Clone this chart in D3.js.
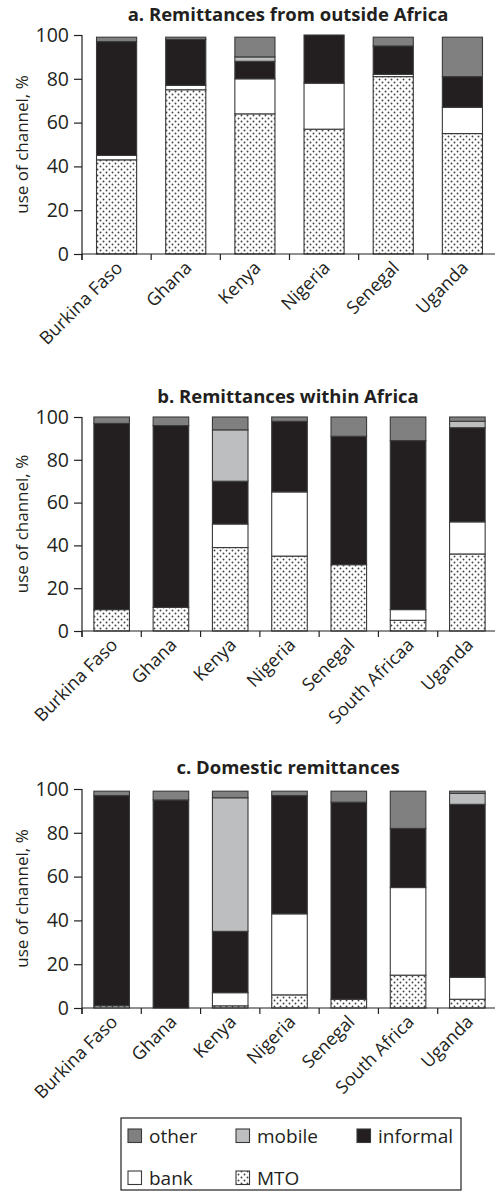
<!DOCTYPE html>
<html>
<head>
<meta charset="utf-8">
<script src="https://cdn.jsdelivr.net/npm/d3@7"></script>
<style>
  html, body { margin: 0; padding: 0; background: #fff; }
  svg { display: block; font-family: "Open Sans", "Noto Sans", sans-serif; }
</style>
</head>
<body>
<svg id="chart" width="495" height="1192"></svg>
<script>
// ---------- data ----------
const keys = ["mto", "bank", "informal", "mobile", "other"];
const legendLabels = ["other", "mobile", "informal", "bank", "MTO"];
const yTicks = [0, 20, 40, 60, 80, 100];

const titleA = "a. Remittances from outside Africa";
const categoriesA = ["Burkina Faso", "Ghana", "Kenya", "Nigeria", "Senegal", "Uganda"];
const mtoA      = [43, 75, 64, 57, 81, 55];
const bankA     = [2, 2, 16, 21, 1, 12];
const informalA = [52, 21, 8, 22, 13, 14];
const mobileA   = [0, 0, 2, 0, 0, 0];
const otherA    = [2, 1, 9, 0, 4, 18];

const titleB = "b. Remittances within Africa";
const categoriesB = ["Burkina Faso", "Ghana", "Kenya", "Nigeria", "Senegal", "South Africa|a", "Uganda"];
const mtoB      = [10, 11, 39, 35, 31, 5, 36];
const bankB     = [0, 0, 11, 30, 0, 5, 15];
const informalB = [87, 85, 20, 33, 60, 79, 44];
const mobileB   = [0, 0, 24, 0, 0, 0, 3];
const otherB    = [3, 4, 6, 2, 9, 11, 2];

const titleC = "c. Domestic remittances";
const categoriesC = ["Burkina Faso", "Ghana", "Kenya", "Nigeria", "Senegal", "South Africa", "Uganda"];
const mtoC      = [1, 0, 1, 6, 4, 15, 4];
const bankC     = [0, 0, 6, 37, 0, 40, 10];
const informalC = [96, 95, 28, 54, 90, 27, 79];
const mobileC   = [0, 0, 61, 0, 0, 0, 5];
const otherC    = [2, 4, 3, 2, 5, 17, 1];

// ---------- styles ----------
const colors = { other: "#808080", mobile: "#bdbec0", informal: "#231f20", bank: "#ffffff", mto: "url(#dots)" };
const stroke = "#3a3a3a";

const svg = d3.select("#chart");
const defs = svg.append("defs");
const pat = defs.append("pattern").attr("id", "dots").attr("patternUnits", "userSpaceOnUse")
  .attr("width", 6).attr("height", 6);
pat.append("rect").attr("width", 6).attr("height", 6).attr("fill", "#fff");
pat.append("circle").attr("cx", 1.5).attr("cy", 1.5).attr("r", 0.95).attr("fill", "#444");
pat.append("circle").attr("cx", 4.5).attr("cy", 4.5).attr("r", 0.95).attr("fill", "#444");

function panel(cfg) {
  const { title, cats, series, y0, y100, titleY, barFrac } = cfg;
  const xLeft = 82, xRight = 497;
  const rows = cats.map((c, i) => {
    const r = { cat: c };
    keys.forEach(k => r[k] = series[k][i]);
    return r;
  });
  const x = d3.scaleBand().domain(cats).range([xLeft, xRight]).padding(0);
  const y = d3.scaleLinear().domain([0, 100]).range([y0, y100]);
  const g = svg.append("g");

  g.append("text").attr("x", 288).attr("y", titleY).attr("text-anchor", "middle")
    .attr("font-size", 18.5).attr("font-weight", "bold").attr("fill", "#231f20").text(title);

  const stacked = d3.stack().keys(keys)(rows);
  const bw = x.bandwidth() * barFrac;
  g.selectAll("g.layer").data(stacked).join("g").attr("class", "layer")
    .attr("fill", d => colors[d.key])
    .selectAll("rect").data(d => d.filter(s => s[1] - s[0] > 0)).join("rect")
    .attr("x", d => x(d.data.cat) + (x.bandwidth() - bw) / 2)
    .attr("width", bw)
    .attr("y", d => y(d[1]))
    .attr("height", d => y(d[0]) - y(d[1]))
    .attr("stroke", stroke).attr("stroke-width", 1.1);

  // y axis
  const ya = d3.axisLeft(y).tickValues(yTicks).tickSize(8).tickPadding(5);
  const yg = g.append("g").attr("transform", `translate(${xLeft},0)`).call(ya);
  yg.select(".domain").remove();
  yg.selectAll(".tick line").attr("stroke", "#231f20").attr("stroke-width", 1.2);
  yg.selectAll(".tick text").attr("font-size", 19.5).attr("fill", "#231f20")
    .attr("font-family", "'Open Sans', sans-serif");
  g.append("line").attr("x1", xLeft).attr("x2", xLeft).attr("y1", y(100)).attr("y2", y0 + 6)
    .attr("stroke", "#231f20").attr("stroke-width", 1.2);

  // x axis line and ticks at band boundaries
  g.append("line").attr("x1", xLeft).attr("x2", xRight).attr("y1", y0).attr("y2", y0)
    .attr("stroke", "#231f20").attr("stroke-width", 1.2);
  g.selectAll("line.xt").data(cats).join("line").attr("class", "xt")
    .attr("x1", d => x(d)).attr("x2", d => x(d)).attr("y1", y0).attr("y2", y0 + 6)
    .attr("stroke", "#231f20").attr("stroke-width", 1.2);

  // x labels
  const lab = g.selectAll("text.xl").data(cats).join("text").attr("class", "xl")
    .attr("text-anchor", "end").attr("font-size", 18).attr("fill", "#231f20")
    .attr("transform", d => `translate(${x(d) + x.bandwidth() / 2 + 7},${y0 + 15}) rotate(-45)`);
  lab.each(function (d) {
    const parts = d.split("|");
    const t = d3.select(this);
    t.append("tspan").text(parts[0]);
    if (parts[1]) t.append("tspan").text(parts[1]);
  });

  // y label
  g.append("text").attr("transform", `translate(28,${(y0 + y100) / 2}) rotate(-90)`)
    .attr("text-anchor", "middle").attr("font-size", 17).attr("fill", "#231f20")
    .text("use of channel, %");
}

panel({ title: titleA, cats: categoriesA, y0: 254, y100: 35, titleY: 21, barFrac: 0.58,
  series: { mto: mtoA, bank: bankA, informal: informalA, mobile: mobileA, other: otherA } });
panel({ title: titleB, cats: categoriesB, y0: 631, y100: 417, titleY: 403, barFrac: 0.6,
  series: { mto: mtoB, bank: bankB, informal: informalB, mobile: mobileB, other: otherB } });
panel({ title: titleC, cats: categoriesC, y0: 1008, y100: 789, titleY: 774, barFrac: 0.6,
  series: { mto: mtoC, bank: bankC, informal: informalC, mobile: mobileC, other: otherC } });

// legend
const legKeys = ["other", "mobile", "informal", "bank", "mto"];
const legX = [128, 236, 357, 128, 236];
const legY = [1129, 1129, 1129, 1171, 1171];
const lg = svg.append("g");
lg.append("rect").attr("x", 121).attr("y", 1118).attr("width", 340).attr("height", 72)
  .attr("fill", "none").attr("stroke", "#231f20").attr("stroke-width", 1.2);
legKeys.forEach((k, i) => {
  lg.append("rect").attr("x", legX[i]).attr("y", legY[i]).attr("width", 13.5).attr("height", 13.5)
    .attr("fill", colors[k]).attr("stroke", stroke).attr("stroke-width", 1.1);
  lg.append("text").attr("x", legX[i] + 21).attr("y", legY[i] + 14)
    .attr("font-size", 19).attr("fill", "#231f20").text(legendLabels[i]);
});
</script>
</body>
</html>
